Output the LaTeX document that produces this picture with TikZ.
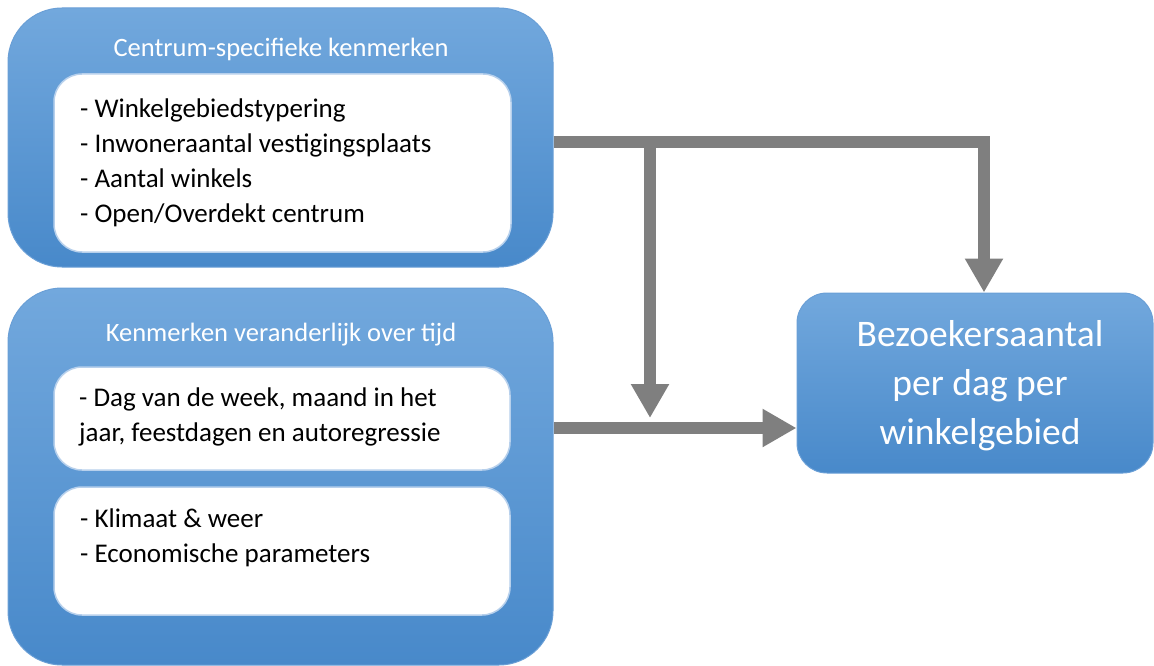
\documentclass[tikz,border=0pt]{standalone}
\usepackage{fontspec}
\setmainfont{Carlito}
\usetikzlibrary{arrows.meta,calc}
\definecolor{bluetop}{HTML}{72A8DD}
\definecolor{bluebot}{HTML}{4889CA}
\definecolor{blueedge}{HTML}{6A9FD6}
\definecolor{arrowgray}{HTML}{7F7F7F}
\definecolor{glow}{HTML}{B7D0EC}
\tikzset{
  panel/.style={rounded corners=54pt, top color=bluetop, bottom color=bluebot,
    draw=blueedge, line width=1pt, inner sep=0pt},
  card/.style={rounded corners=28pt, fill=white, draw=glow, line width=1.5pt, inner sep=0pt},
  target/.style={rounded corners=30pt, top color=bluetop, bottom color=bluebot,
    draw=blueedge, line width=1pt, inner sep=0pt},
  bigtext/.style={text=white, align=center, inner sep=0pt,
    font=\fontsize{37.5}{49}\selectfont},
  heading/.style={text=white, font=\fontsize{26.5}{30}\selectfont, inner sep=0pt},
  items/.style={align=left, anchor=west, inner sep=0pt, font=\fontsize{27}{35}\selectfont},
  flow/.style={draw=arrowgray, line width=12pt, line join=miter,
    -{Triangle[length=34pt,width=36pt]}},
}
\begin{document}
\begin{tikzpicture}[x=1pt,y=-1pt]
\useasboundingbox (0,0) rectangle (1154,666);

% upper group: fixed characteristics of the centre
\node[panel, minimum width=545pt, minimum height=259pt] (outerA) at (280.5,137.5) {};
\node[heading] (titleA) at (281,49) {Centrum-specifieke kenmerken};
\node[card, minimum width=457pt, minimum height=178pt] (cardA) at (282.5,163) {};
\node[items] (listA) at (80,163) {- Winkelgebiedstypering\\- Inwoneraantal vestigingsplaats\\- Aantal winkels\\- Open/Overdekt centrum};

% lower group: time-varying characteristics
\node[panel, minimum width=545pt, minimum height=377pt] (outerB) at (280.5,476.5) {};
\node[heading] (titleB) at (281,335) {Kenmerken veranderlijk over tijd};
\node[card, minimum width=456pt, minimum height=103pt] (cardB) at (282,418.5) {};
\node[items] (listB) at (79,416.5) {- Dag van de week, maand in het\\jaar, feestdagen en autoregressie};
\node[card, minimum width=456pt, minimum height=128pt] (cardC) at (282,551) {};
\node[items] (listC) at (80,537.5) {- Klimaat \& weer\\- Economische parameters};

% outcome
\node[target, minimum width=356pt, minimum height=180pt] (result) at (975,383) {};
\node[bigtext] (resultText) at (980,386) {Bezoekersaantal\\per dag per\\winkelgebied};

% junction points of the connectors
\coordinate (split) at (650,142);
\coordinate (corner) at (984,142);
\coordinate (merge) at (650,428);

\draw[flow] (outerA.east |- split) -- (corner) -- (result.north -| corner);
\draw[flow, shorten >=10pt] (split) -- (merge);
\draw[flow] (outerB.east |- merge) -- (result.west |- merge);
\end{tikzpicture}
\end{document}
